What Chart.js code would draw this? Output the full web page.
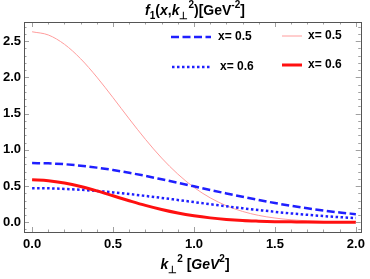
<!DOCTYPE html>
<html>
<head>
<meta charset="utf-8">
<script src="https://cdn.jsdelivr.net/npm/chart.js@4.4.1/dist/chart.umd.min.js"></script>
<style>
  html, body { margin: 0; padding: 0; background: #fff; }
  #wrap { width: 370px; height: 279px; position: relative; }
</style>
</head>
<body>
<div id="wrap"><canvas id="tmdChart"></canvas></div>
<script>
// k_perp^2 grid (GeV^2) and curves
const kValues = [0.0, 0.1, 0.2, 0.3, 0.4, 0.5, 0.6, 0.7, 0.8, 0.9, 1.0,
                 1.1, 1.2, 1.3, 1.4, 1.5, 1.6, 1.7, 1.8, 1.9, 2.0];
const dashedX05 = [0.817, 0.813, 0.801, 0.781, 0.754, 0.721, 0.682, 0.640, 0.593, 0.545, 0.496,
                   0.446, 0.398, 0.351, 0.307, 0.265, 0.227, 0.193, 0.162, 0.134, 0.111];
const dottedX06 = [0.470, 0.468, 0.460, 0.448, 0.432, 0.412, 0.389, 0.363, 0.336, 0.307, 0.278,
                   0.249, 0.220, 0.193, 0.168, 0.144, 0.122, 0.103, 0.085, 0.070, 0.057];
const thinX05 = [2.630, 2.586, 2.457, 2.257, 2.004, 1.720, 1.427, 1.145, 0.887, 0.665, 0.481,
                 0.337, 0.228, 0.149, 0.094, 0.058, 0.034, 0.019, 0.011, 0.006, 0.003];
const thickX06 = [0.585, 0.574, 0.542, 0.494, 0.433, 0.365, 0.297, 0.232, 0.175, 0.127, 0.089,
                  0.060, 0.039, 0.024, 0.015, 0.008, 0.005, 0.002, 0.001, 0.001, 0.000];
const seriesLabels = ['x= 0.5', 'x= 0.6', 'x= 0.5', 'x= 0.6'];
const xTicks = [0, 0.5, 1.0, 1.5, 2.0];
const yTicks = [0, 0.5, 1.0, 1.5, 2.0, 2.5];

const FONT = "'Liberation Sans', Arial, sans-serif";

function toPoints(ys) {
  return kValues.map((k, i) => ({ x: k, y: ys[i] }));
}

// draw a line of text made of pieces with sub/superscripts
function drawRich(ctx, parts, cx, cy, size) {
  const small = Math.round(size * 0.7);
  let total = 0;
  parts.forEach(p => {
    ctx.font = (p.it ? 'italic ' : '') + 'bold ' + (p.s ? small : size) + 'px ' + FONT;
    p.w = ctx.measureText(p.t).width;
    total += p.w;
  });
  let x = cx - total / 2;
  ctx.textBaseline = 'middle';
  ctx.textAlign = 'left';
  ctx.fillStyle = '#000';
  parts.forEach(p => {
    ctx.font = (p.it ? 'italic ' : '') + 'bold ' + (p.s ? small : size) + 'px ' + FONT;
    let dy = 0;
    if (p.s === 'sub') dy = size * 0.35;
    if (p.s === 'sup') dy = -size * 0.4;
    ctx.fillText(p.t, x, cy + dy);
    x += p.w;
  });
}

const framePlugin = {
  id: 'frame',
  afterDatasetsDraw(chart) {
    const { ctx, chartArea: a, scales } = chart;
    ctx.save();
    // inner ticks on all four sides
    ctx.strokeStyle = '#a0a0a0';
    ctx.lineWidth = 1;
    for (let i = 0; i <= 20; i++) {
      const v = i / 10;
      const px = Math.round(scales.x.getPixelForValue(v)) + 0.5;
      const len = (i % 5 === 0) ? 5 : 2.5;
      ctx.beginPath();
      ctx.moveTo(px, a.bottom); ctx.lineTo(px, a.bottom - len);
      ctx.moveTo(px, a.top); ctx.lineTo(px, a.top + len);
      ctx.stroke();
    }
    for (let i = -1; i <= 27; i++) {
      const v = i / 10;
      const py = Math.round(scales.y.getPixelForValue(v)) + 0.5;
      if (py < a.top || py > a.bottom) continue;
      const len = (i % 5 === 0) ? 5 : 2.5;
      ctx.beginPath();
      ctx.moveTo(a.left, py); ctx.lineTo(a.left + len, py);
      ctx.moveTo(a.right, py); ctx.lineTo(a.right - len, py);
      ctx.stroke();
    }
    ctx.strokeStyle = '#555';
    ctx.lineWidth = 1;
    ctx.strokeRect(Math.round(a.left) + 0.5, Math.round(a.top) + 0.5,
                   Math.round(a.right - a.left), Math.round(a.bottom - a.top));

    // legend inside the plot, two columns
    const slots = [
      { x0: 171, x1: 211, y: 37, tx: 218 },
      { x0: 172, x1: 212, y: 67, tx: 220 },
      { x0: 282, x1: 302, y: 36, tx: 308 },
      { x0: 282, x1: 302, y: 65, tx: 308 }
    ];
    chart.data.datasets.forEach((ds, i) => {
      const s = slots[i];
      ctx.strokeStyle = ds.borderColor;
      ctx.lineWidth = ds.borderWidth;
      ctx.setLineDash(ds.borderDash || []);
      ctx.beginPath();
      ctx.moveTo(s.x0, s.y); ctx.lineTo(s.x1, s.y);
      ctx.stroke();
      ctx.setLineDash([]);
      ctx.fillStyle = '#000';
      ctx.font = 'bold 12px ' + FONT;
      ctx.textBaseline = 'middle';
      ctx.textAlign = 'left';
      ctx.fillText(ds.label, s.tx, s.y);
    });

    // title and x-axis title
    drawRich(ctx, [
      { t: 'f', it: true }, { t: '1', s: 'sub' }, { t: '(' }, { t: 'x', it: true }, { t: ',' },
      { t: 'k', it: true }, { t: '\u22A5', s: 'sub' }, { t: '2', s: 'sup' }, { t: ')[GeV' },
      { t: '-2', s: 'sup' }, { t: ']' }
    ], 195, 11, 14);
    drawRich(ctx, [
      { t: 'k', it: true }, { t: '\u22A5', s: 'sub' }, { t: '2', s: 'sup' }, { t: ' [' },
      { t: 'GeV', it: true }, { t: '2', s: 'sup' }, { t: ']' }
    ], 195, 265, 14);
    ctx.restore();
  }
};

document.addEventListener('DOMContentLoaded', function () {
  const data = {
    datasets: [{
      label: seriesLabels[0],
      data: toPoints(dashedX05),
      borderColor: '#1f1fff',
      borderWidth: 2.5,
      borderDash: [8, 3.5],
      order: 1
    }, {
      label: seriesLabels[1],
      data: toPoints(dottedX06),
      borderColor: '#1f1fff',
      borderWidth: 2.5,
      borderDash: [2.5, 2.5],
      order: 2
    }, {
      label: seriesLabels[2],
      data: toPoints(thinX05),
      borderColor: '#ff9c9c',
      borderWidth: 1,
      order: 3
    }, {
      label: seriesLabels[3],
      data: toPoints(thickX06),
      borderColor: '#ff1010',
      borderWidth: 3,
      order: 0
    }]
  };

  const config = {
    type: 'line',
    data: data,
    options: {
      responsive: true,
      maintainAspectRatio: false,
      animation: false,
      layout: { padding: { left: 0, top: 22, right: 7, bottom: 0 } },
      elements: {
        point: { radius: 0 },
        line: { cubicInterpolationMode: 'monotone', fill: false }
      },
      plugins: {
        legend: { display: false },
        title: { display: false },
        tooltip: { enabled: false }
      },
      scales: {
        x: {
          type: 'linear',
          min: -0.05,
          max: 2.03,
          grid: { display: false, drawTicks: false },
          border: { display: false },
          afterBuildTicks: s => { s.ticks = xTicks.map(v => ({ value: v })); },
          afterFit: s => { s.height = 47; },
          ticks: {
            padding: 5,
            color: '#000',
            maxRotation: 0,
            font: { size: 13, weight: 'bold', family: FONT },
            callback: v => v.toFixed(1)
          }
        },
        y: {
          min: -0.135,
          max: 2.765,
          grid: { display: false, drawTicks: false },
          border: { display: false },
          afterBuildTicks: s => { s.ticks = yTicks.map(v => ({ value: v })); },
          afterFit: s => { s.width = 24; },
          ticks: {
            padding: 3,
            color: '#000',
            font: { size: 13, weight: 'bold', family: FONT },
            callback: v => v.toFixed(1)
          }
        }
      }
    },
    plugins: [framePlugin]
  };

  const myChart = new Chart(document.getElementById('tmdChart'), config);
});
</script>
</body>
</html>
